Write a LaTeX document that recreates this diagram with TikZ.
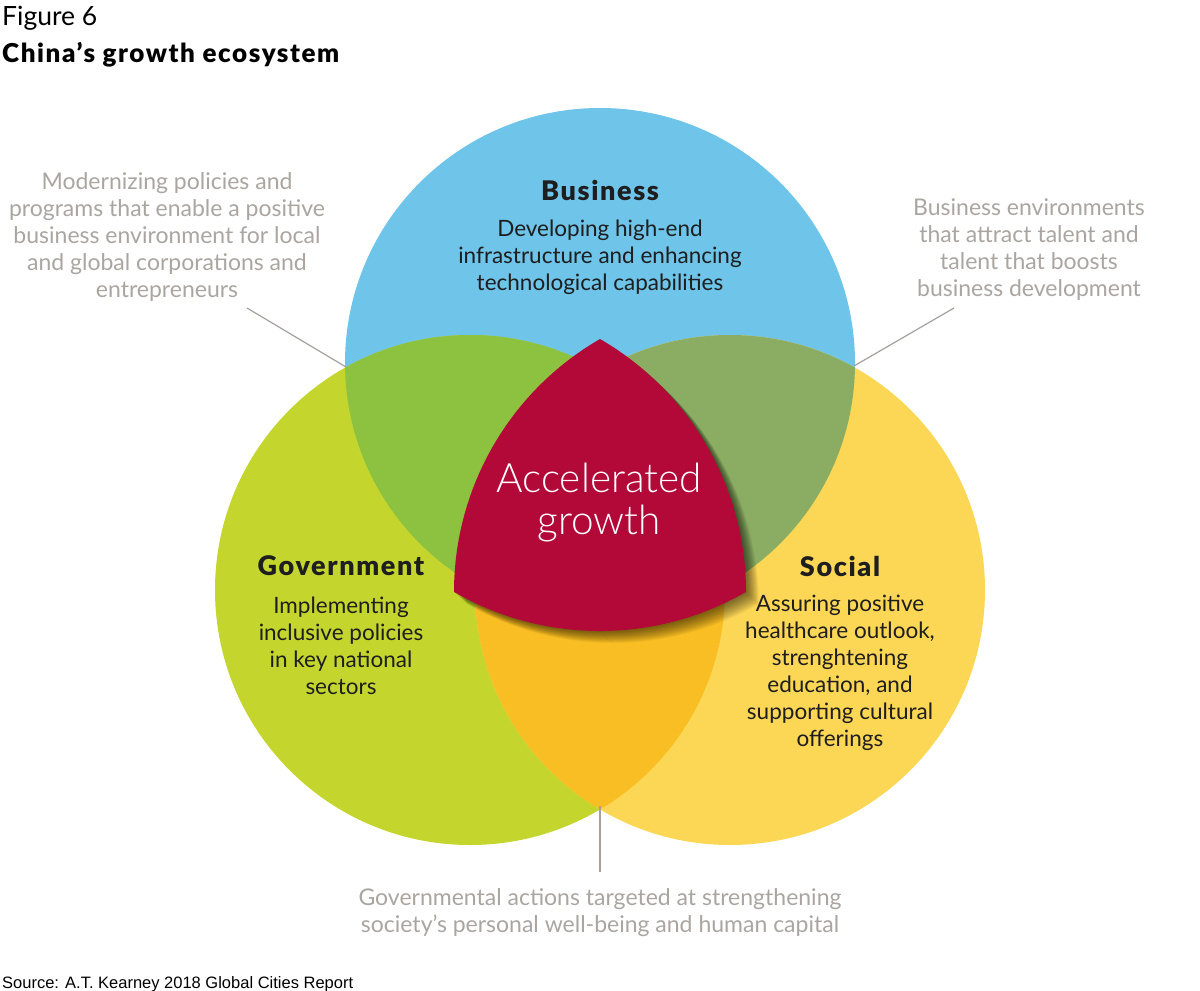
\documentclass[tikz,border=0pt]{standalone}
\usepackage{fontspec}
\setmainfont{Lato}
\newfontfamily\heavyfont{Lato Black}[LetterSpace=6]
\newfontfamily\lightfont{Lato Light}
\newfontfamily\srcfont{Liberation Sans}

\definecolor{busblue}{RGB}{110,196,233}
\definecolor{govgreen}{RGB}{196,214,46}
\definecolor{socyellow}{RGB}{252,214,85}
\definecolor{bgmix}{RGB}{141,194,64}
\definecolor{bsmix}{RGB}{139,173,99}
\definecolor{gsmix}{RGB}{249,190,35}
\definecolor{accred}{RGB}{178,9,57}
\definecolor{notegray}{RGB}{170,165,160}
\definecolor{linegray}{RGB}{165,160,155}
\definecolor{headblack}{RGB}{30,30,30}

\def\reuleaux{(454,-591.9) arc[start angle=180, end angle=120, radius=292] arc[start angle=60, end angle=0, radius=292] arc[start angle=-60, end angle=-120, radius=292] -- cycle}

\tikzset{
  head/.style={font=\heavyfont\fontsize{27}{30}\selectfont, text=headblack, inner sep=0pt},
  body/.style={font=\fontsize{22.5}{27}\selectfont, text=headblack, align=center, inner sep=0pt},
  note/.style={font=\fontsize{23}{27}\selectfont, text=notegray, align=center, inner sep=0pt},
  growthtxt/.style={font=\lightfont\fontsize{40.5}{42}\selectfont, text=white, align=center, inner sep=0pt},
  leader/.style={draw=linegray, line width=1.2pt},
}

\begin{document}
\begin{tikzpicture}[x=1pt,y=1pt]
		%%%%% START %%%%%
		\useasboundingbox (0,0) rectangle (1200,-991);
		
		\node[anchor=base west, font=\fontsize{26.5}{30}\selectfont, inner sep=0pt] (fig) at (2,-25) {Figure 6};
		\node[anchor=base west, font=\heavyfont\fontsize{26}{30}\selectfont, inner sep=0pt] (title) at (2,-62) {China’s growth ecosystem};
		
		\coordinate (busC) at (600,-363);
		\coordinate (govC) at (470,-590);
		\coordinate (socC) at (730,-590);
		
		\fill[busblue] (busC) circle (255);
		\fill[govgreen] (govC) circle (255);
		\fill[socyellow] (socC) circle (255);
		
		\begin{scope}
			\clip (busC) circle (255);
			\fill[bgmix] (govC) circle (255);
			\fill[bsmix] (socC) circle (255);
		\end{scope}
		\begin{scope}
			\clip (govC) circle (255);
			\fill[gsmix] (socC) circle (255);
		\end{scope}
		
		% soft shadow of the centre piece
		\foreach \s in {1,...,16}
			\fill[black, opacity=0.04, shift={(\s*0.8,-\s*0.75)}] \reuleaux;
		\fill[accred] \reuleaux;
		
		\node[growthtxt] (growth) at (599,-503) {Accelerated\\growth};
		
		\node[head] (bus) at (600,-190) {Business};
		\node[body] (busText) at (600,-257) {Developing high-end\\infrastructure and enhancing\\technological capabilities};
		
		\node[head] (gov) at (341,-566) {Government};
		\node[body] (govText) at (341,-646) {Implementing\\inclusive policies\\in key national\\sectors};
		
		\node[head] (soc) at (840,-566) {Social};
		\node[body] (socText) at (840,-673) {Assuring positive\\healthcare outlook,\\strenghtening\\education, and\\supporting cultural\\offerings};
		
		\node[note] (bgNote) at (167,-237) {Modernizing policies and\\programs that enable a positive\\business environment for local\\and global corporations and\\entrepreneurs};
		\node[note] (bsNote) at (1029,-250) {Business environments\\that attract talent and\\talent that boosts\\business development};
		\node[note] (gsNote) at (600,-913) {Governmental actions targeted at strengthening\\society’s personal well-being and human capital};
		
		\coordinate (bgPt) at (346,-367);
		\coordinate (bgEnd) at (247,-308);
		\coordinate (bsPt) at (854,-366);
		\coordinate (bsEnd) at (954,-308);
		\coordinate (gsPt) at (600,-806);
		\coordinate (gsEnd) at (600,-872);
		\draw[leader] (bgEnd) -- (bgPt);
		\draw[leader] (bsEnd) -- (bsPt);
		\draw[leader] (gsPt) -- (gsEnd);
		
		\node[anchor=base west, font=\srcfont\fontsize{16.5}{18}\selectfont, inner sep=0pt] (src) at (2,-988) {Source: A.T. Kearney 2018 Global Cities Report};
		%%%%% END %%%%%
\end{tikzpicture}
\end{document}
